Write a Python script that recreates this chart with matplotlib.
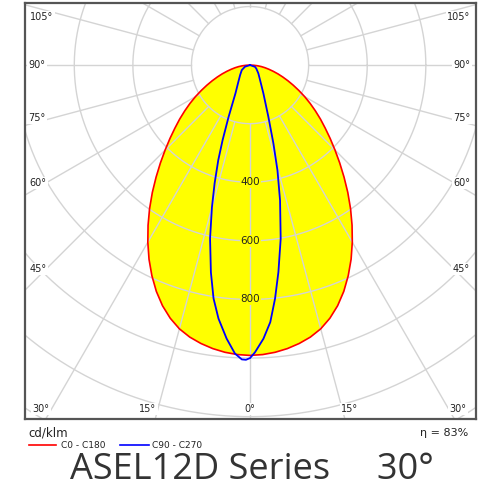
import numpy as np
import matplotlib
matplotlib.use('Agg')
import matplotlib.pyplot as plt

# 光强数据 (cd/klm)，gamma 角从正下方量起
gamma_red = [0, 2.5, 5, 7.5, 10, 12.5, 15, 17.5, 20, 22.5, 25, 27.5, 30, 32.5, 35, 37.5, 40, 42.5,
             45, 47.5, 50, 52.5, 55, 57.5, 60, 62.5, 65, 67.5, 70, 72.5, 75, 77.5, 80, 82.5, 85, 87.5, 90]
c0 = [991, 989, 984, 976, 965, 951, 932, 906, 874, 836, 793, 747, 698, 648, 598, 548, 499, 453,
      410, 371, 335, 303, 272, 243, 215, 188, 163, 140, 119, 100, 82, 66, 52, 39, 26, 13, 0]
c180 = [991, 989, 984, 976, 965, 951, 932, 906, 874, 836, 793, 747, 698, 648, 598, 548, 499, 453,
        410, 371, 335, 303, 272, 243, 215, 188, 163, 140, 119, 100, 82, 66, 52, 39, 26, 13, 0]

gamma_c270 = [0, 0.8, 1.6, 3.0, 4.9, 7.1, 8.9, 10.7, 13.0, 15.0, 16.7, 18.5, 20.1, 22.5, 27.4, 34, 45, 59, 73, 90]
c270 = [1000, 1006, 1005, 986, 937, 872, 806, 720, 607, 503, 421, 342, 273, 192, 108, 73, 48, 33, 18, 0]
gamma_c90 = [0, 1.0, 2.8, 4.5, 6.1, 7.8, 10.0, 12.5, 14.6, 16.6, 19.5, 25.2, 35, 45, 60, 71, 90]
c90 = [1000, 980, 935, 880, 802, 713, 602, 473, 371, 279, 187, 107, 58, 40, 25, 18, 0]

rings = [200, 400, 600, 800, 1000, 1200, 1400, 1600, 1800]
ring_labels = [400, 600, 800]
spoke_step = 15

# 角度标签: (文字, 像素x, 像素y)
angle_labels = [
    ('105°', 42, 17), ('90°', 37, 65), ('75°', 37, 118), ('60°', 38, 183), ('45°', 38, 269),
    ('105°', 459, 17), ('90°', 462, 65), ('75°', 462, 118), ('60°', 462, 183), ('45°', 461, 269),
    ('30°', 41, 409), ('15°', 148, 409), ('0°', 250, 409), ('15°', 350, 409), ('30°', 458, 409),
]


def half_curve(gamma, values, side):
    g = np.radians(np.asarray(gamma, dtype=float))
    r = np.asarray(values, dtype=float)
    return side * r * np.sin(g), -r * np.cos(g)


def plane(gamma_l, left, gamma_r, right):
    xl, yl = half_curve(gamma_l, left, -1)
    xr, yr = half_curve(gamma_r, right, 1)
    x = np.concatenate([xl[::-1], xr])
    y = np.concatenate([yl[::-1], yr])
    return x, y


fig = plt.figure(figsize=(5, 5), dpi=100)
ax = fig.add_axes([0.05, 0.162, 0.902, 0.832])

grid_color = '#d4d4d4'

# 填充
xr_, yr_ = plane(gamma_red, c180, gamma_red, c0)
ax.fill(xr_, yr_, color='#ffff00', zorder=1, lw=0)

# 网格：圆环
t = np.linspace(0, 2 * np.pi, 721)
for r in rings:
    ax.plot(r * np.cos(t), r * np.sin(t), color=grid_color, lw=1.0, zorder=2)

# 网格：放射线
for a in range(0, 360, spoke_step):
    ar = np.radians(a)
    ax.plot([200 * np.sin(ar), 3000 * np.sin(ar)], [-200 * np.cos(ar), -3000 * np.cos(ar)],
            color=grid_color, lw=1.0, zorder=2)

# 曲线
ax.plot(xr_, yr_, color='#ff0000', lw=1.2, zorder=4, solid_joinstyle='round')
xb, yb = plane(gamma_c270, c270, gamma_c90, c90)
ax.plot(xb, yb, color='#0000ff', lw=1.3, zorder=5, solid_joinstyle='round')

for v in ring_labels:
    ax.text(0, -v, str(v), ha='center', va='center', fontsize=7.5, color='#222222', zorder=3,
            bbox=dict(facecolor='#ffff00', edgecolor='none', pad=0.5))

ax.set_aspect('equal')
ax.set_xlim(-768, 771)
ax.set_ylim(-1208, 212)
ax.set_xticks([])
ax.set_yticks([])
for s in ax.spines.values():
    s.set_color('#555555')
    s.set_linewidth(1.6)

for txt, px, py in angle_labels:
    fig.text(px / 500, 1 - py / 500, txt, ha='center', va='center', fontsize=7, color='#222222',
             bbox=dict(facecolor='white', edgecolor='none', pad=1.0))

# 底部说明
fig.text(28 / 500, 1 - 433 / 500, 'cd/klm', ha='left', va='center', fontsize=8.5, color='#222222')
fig.text(468 / 500, 1 - 433 / 500, 'η = 83%', ha='right', va='center', fontsize=8, color='#222222')
fig.add_artist(plt.Line2D([29 / 500, 56 / 500], [1 - 445 / 500] * 2, color='#ff0000', lw=1.2))
fig.text(61 / 500, 1 - 446 / 500, 'C0 - C180', ha='left', va='center', fontsize=6.5, color='#222222')
fig.add_artist(plt.Line2D([120 / 500, 149 / 500], [1 - 445 / 500] * 2, color='#0000ff', lw=1.2))
fig.text(152 / 500, 1 - 446 / 500, 'C90 - C270', ha='left', va='center', fontsize=6.5, color='#222222')

fig.text(252 / 500, 1 - 470 / 500, 'ASEL12D Series     30°', ha='center', va='center',
         fontsize=26, color='#333333', family='Open Sans')

plt.savefig('out.png', dpi=100)
